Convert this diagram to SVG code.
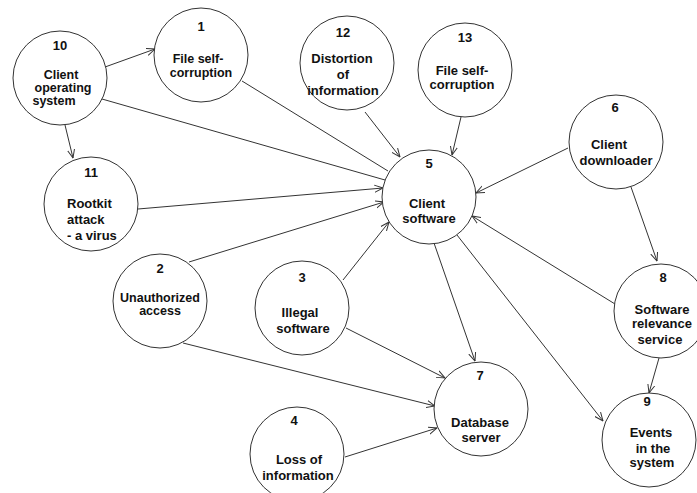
<svg xmlns="http://www.w3.org/2000/svg" width="697" height="493" viewBox="0 0 697 493">
  <style>
    .node circle { fill: #ffffff; stroke: #333333; stroke-width: 1; }
    .node text { font-family: "Liberation Sans", Arial, sans-serif; font-size: 13px; font-weight: bold; fill: #111111; text-anchor: middle; }
    .node text.left { text-anchor: start; }
    .node text.tight { font-size: 12.5px; }
    .edges line { stroke: #333333; stroke-width: 1; fill: none; }
    .edges line.arr { marker-end: url(#arrow); }
  </style>
  <defs>
    <marker id="arrow" viewBox="0 0 10 10" refX="9.5" refY="5" markerWidth="9" markerHeight="9" markerUnits="userSpaceOnUse" orient="auto">
      <path d="M0,1 L9.5,5 L0,9" fill="none" stroke="#333333" stroke-width="1.1"/>
    </marker>
  </defs>
  <rect width="697" height="493" fill="#ffffff"/>

  <g id="connectors" class="edges">
    <line class="arr" x1="105" y1="67" x2="155" y2="49"/>
    <line class="arr" x1="65" y1="125" x2="73" y2="158"/>
    <line x1="102" y1="99" x2="385" y2="180"/>
    <line x1="242" y1="81" x2="388" y2="171"/>
    <line class="arr" x1="365" y1="112" x2="400" y2="157"/>
    <line class="arr" x1="461" y1="117" x2="452" y2="155"/>
    <line class="arr" x1="138" y1="209" x2="383" y2="188"/>
    <line class="arr" x1="189" y1="262" x2="384" y2="202"/>
    <line class="arr" x1="343" y1="280" x2="389" y2="222"/>
    <line class="arr" x1="568" y1="148" x2="476" y2="193"/>
    <line class="arr" x1="615" y1="304" x2="472" y2="216"/>
    <line class="arr" x1="434" y1="243" x2="475" y2="361"/>
    <line class="arr" x1="457" y1="235" x2="603" y2="421"/>
    <line class="arr" x1="631" y1="187" x2="657" y2="261"/>
    <line class="arr" x1="659" y1="358" x2="649" y2="393"/>
    <line class="arr" x1="346" y1="328" x2="445" y2="378"/>
    <line class="arr" x1="183" y1="343" x2="435" y2="406"/>
    <line class="arr" x1="345" y1="457" x2="437" y2="428"/>
  </g>

  <g id="node10" class="node">
    <circle cx="60" cy="78" r="47"/>
    <text x="60" y="50">10</text>
    <text class="tight" x="61" y="79">Client</text>
    <text class="tight" x="63" y="92">operating</text>
    <text class="tight" x="54" y="105">system</text>
  </g>
  <g id="node1" class="node">
    <circle cx="201" cy="55" r="47"/>
    <text x="201" y="31">1</text>
    <text class="tight" x="198" y="63">File self-</text>
    <text class="tight" x="201" y="77">corruption</text>
  </g>
  <g id="node12" class="node">
    <circle cx="347" cy="63" r="47"/>
    <text x="343" y="37">12</text>
    <text x="342" y="63">Distortion</text>
    <text x="343" y="79">of</text>
    <text x="343" y="95">information</text>
  </g>
  <g id="node13" class="node">
    <circle cx="465" cy="70" r="47"/>
    <text x="465" y="42">13</text>
    <text x="462" y="75">File self-</text>
    <text x="462" y="89">corruption</text>
  </g>
  <g id="node5" class="node">
    <circle cx="429" cy="197" r="47"/>
    <text x="429" y="168">5</text>
    <text x="427" y="208">Client</text>
    <text x="429" y="223">software</text>
  </g>
  <g id="node6" class="node">
    <circle cx="616" cy="142" r="47"/>
    <text x="615" y="112">6</text>
    <text x="609" y="149">Client</text>
    <text x="616" y="165">downloader</text>
  </g>
  <g id="node11" class="node">
    <circle cx="91" cy="204" r="47"/>
    <text x="91" y="177">11</text>
    <text class="left" x="67" y="208">Rootkit</text>
    <text class="left" x="67" y="224">attack</text>
    <text class="left" x="67" y="240">- a virus</text>
  </g>
  <g id="node2" class="node">
    <circle cx="160" cy="301" r="47"/>
    <text x="160" y="273">2</text>
    <text class="tight" x="160" y="302">Unauthorized</text>
    <text class="tight" x="160" y="315">access</text>
  </g>
  <g id="node3" class="node">
    <circle cx="302" cy="308" r="47"/>
    <text x="302" y="282">3</text>
    <text x="300" y="317">Illegal</text>
    <text x="303" y="333">software</text>
  </g>
  <g id="node4" class="node">
    <circle cx="297" cy="454" r="47"/>
    <text x="294" y="425">4</text>
    <text x="299" y="464">Loss of</text>
    <text x="298" y="480">information</text>
  </g>
  <g id="node7" class="node">
    <circle cx="481" cy="409" r="47"/>
    <text x="480" y="380">7</text>
    <text x="480" y="427">Database</text>
    <text x="481" y="442">server</text>
  </g>
  <g id="node8" class="node">
    <circle cx="661" cy="311" r="47"/>
    <text x="663" y="282">8</text>
    <text x="662" y="314">Software</text>
    <text x="662" y="328">relevance</text>
    <text x="660" y="344">service</text>
  </g>
  <g id="node9" class="node">
    <circle cx="649" cy="440" r="47"/>
    <text x="647" y="406">9</text>
    <text x="651" y="437">Events</text>
    <text x="653" y="453">in the</text>
    <text x="652" y="467">system</text>
  </g>
</svg>
